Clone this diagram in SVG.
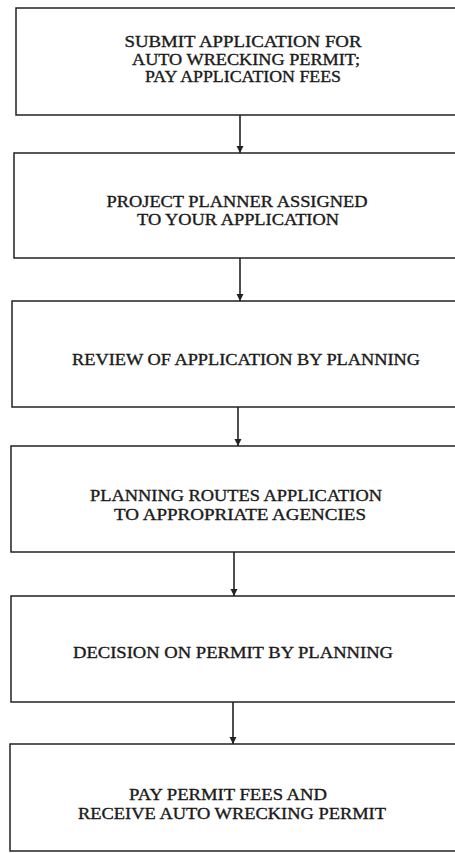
<svg xmlns="http://www.w3.org/2000/svg" width="455" height="853" viewBox="0 0 455 853">
<style>
.box{fill:#fff;stroke:#222;stroke-width:1.5}
.t{font-family:"Liberation Serif","Times New Roman",serif;font-size:16px;fill:#1a1a1a;text-anchor:middle;stroke:#1a1a1a;stroke-width:0.35}
.c{stroke:#222;stroke-width:1.6;fill:none}
</style>
<defs>
<marker id="ah" markerWidth="8" markerHeight="8" refX="7" refY="4" orient="auto" markerUnits="userSpaceOnUse">
<path d="M0,0.5 L7,4 L0,7.5 Z" fill="#222"/>
</marker>
</defs>
<rect width="455" height="853" fill="#fff"/>
<g id="n1"><rect class="box" x="16" y="8" width="440" height="107"/>
<text class="t" x="243" y="47" textLength="237" lengthAdjust="spacingAndGlyphs">SUBMIT APPLICATION FOR</text>
<text class="t" x="246" y="65" textLength="228" lengthAdjust="spacingAndGlyphs">AUTO WRECKING PERMIT;</text>
<text class="t" x="243" y="82" textLength="196" lengthAdjust="spacingAndGlyphs">PAY APPLICATION FEES</text></g>
<g id="n2"><rect class="box" x="14" y="153" width="442" height="105"/>
<text class="t" x="237" y="207" textLength="261" lengthAdjust="spacingAndGlyphs">PROJECT PLANNER ASSIGNED</text>
<text class="t" x="238" y="225" textLength="202" lengthAdjust="spacingAndGlyphs">TO YOUR APPLICATION</text></g>
<g id="n3"><rect class="box" x="12" y="301" width="444" height="106"/>
<text class="t" x="246" y="365" textLength="348" lengthAdjust="spacingAndGlyphs">REVIEW OF APPLICATION BY PLANNING</text></g>
<g id="n4"><rect class="box" x="11" y="446" width="445" height="106"/>
<text class="t" x="236" y="501" textLength="292" lengthAdjust="spacingAndGlyphs">PLANNING ROUTES APPLICATION</text>
<text class="t" x="240" y="520" textLength="252" lengthAdjust="spacingAndGlyphs">TO APPROPRIATE AGENCIES</text></g>
<g id="n5"><rect class="box" x="11" y="596" width="445" height="106"/>
<text class="t" x="233" y="658" textLength="320" lengthAdjust="spacingAndGlyphs">DECISION ON PERMIT BY PLANNING</text></g>
<g id="n6"><rect class="box" x="10" y="744" width="446" height="107"/>
<text class="t" x="228" y="800" textLength="198" lengthAdjust="spacingAndGlyphs">PAY PERMIT FEES AND</text>
<text class="t" x="232" y="819" textLength="308" lengthAdjust="spacingAndGlyphs">RECEIVE AUTO WRECKING PERMIT</text></g>
<g id="connectors">
<line class="c" x1="240" y1="115" x2="240" y2="153" marker-end="url(#ah)"/>
<line class="c" x1="240" y1="258" x2="240" y2="301" marker-end="url(#ah)"/>
<line class="c" x1="238" y1="407" x2="238" y2="446" marker-end="url(#ah)"/>
<line class="c" x1="234" y1="552" x2="234" y2="596" marker-end="url(#ah)"/>
<line class="c" x1="233" y1="702" x2="233" y2="744" marker-end="url(#ah)"/>
</g>
</svg>
